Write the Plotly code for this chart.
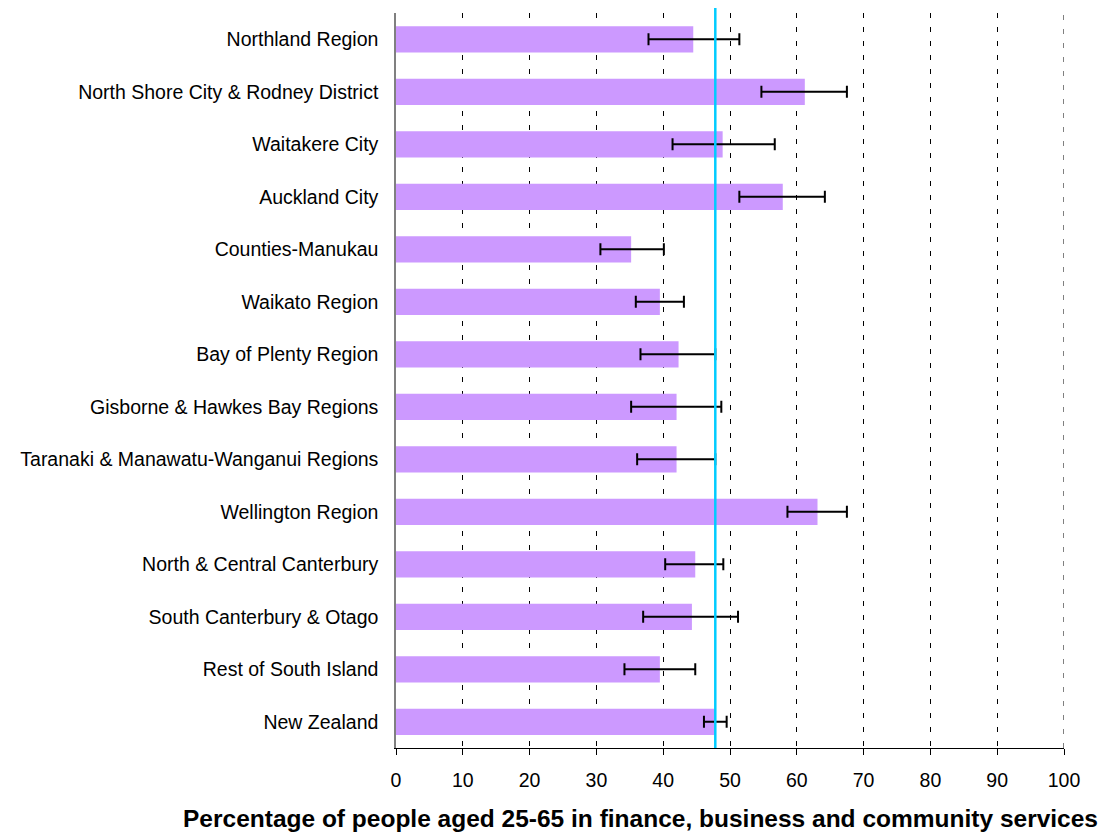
import plotly.graph_objects as go

categories = [
    "Northland Region",
    "North Shore City & Rodney District",
    "Waitakere City",
    "Auckland City",
    "Counties-Manukau",
    "Waikato Region",
    "Bay of Plenty Region",
    "Gisborne & Hawkes Bay Regions",
    "Taranaki & Manawatu-Wanganui Regions",
    "Wellington Region",
    "North & Central Canterbury",
    "South Canterbury & Otago",
    "Rest of South Island",
    "New Zealand",
]
values = [44.5, 61.2, 48.9, 57.9, 35.2, 39.5, 42.3, 42.0, 42.0, 63.1, 44.8, 44.3, 39.5, 47.8]
err_low = [37.8, 54.7, 41.4, 51.4, 30.6, 35.9, 36.6, 35.2, 36.1, 58.6, 40.3, 37.0, 34.2, 46.1]
err_high = [51.4, 67.5, 56.7, 64.2, 40.1, 43.1, 47.8, 48.7, 47.8, 67.5, 49.0, 51.2, 44.8, 49.5]
nz_reference = 47.8
x_ticks = [0, 10, 20, 30, 40, 50, 60, 70, 80, 90, 100]
x_title = "Percentage of people aged 25-65 in finance, business and community services"

minus = [v - lo for v, lo in zip(values, err_low)]
plus = [hi - v for v, hi in zip(values, err_high)]

# page body has an 8px default margin; size the figure so the plot lands where the reference has it
W, H = 1099, 824
L, R, T, B = 388, 43, 5, 84
plot_w = W - L - R
plot_h = H - T - B
grid_dash = "5px,9px"

fig = go.Figure()
fig.add_trace(go.Bar(
    y=categories,
    x=values,
    orientation="h",
    marker=dict(color="#CC99FF", line=dict(width=0)),
    error_x=dict(type="data", symmetric=False, array=plus, arrayminus=minus,
                 color="black", thickness=2, width=6),
    showlegend=False,
))

# gridline at the right edge of the range (plotly skips gridlines on the range edge)
fig.add_shape(type="line", xref="x", yref="paper", x0=x_ticks[-1], x1=x_ticks[-1],
              y0=0, y1=1, line=dict(color="black", width=1, dash=grid_dash), layer="below")

fig.add_shape(type="line", xref="x", yref="paper", x0=nz_reference, x1=nz_reference,
              y0=0, y1=1 + 5 / plot_h, line=dict(color="#00CCFF", width=2.5), layer="above")

fig.add_annotation(text="<b>" + x_title + "</b>", xref="paper", yref="paper",
                   x=(640 - 8 - L) / plot_w, y=-(818 - 8 - (T + plot_h)) / plot_h,
                   xanchor="center", yanchor="middle",
                   showarrow=False, font=dict(family="Liberation Sans, Arial", size=24.5, color="black"))

fig.update_layout(
    width=W, height=H,
    margin=dict(l=L, r=R, t=T, b=B, pad=0),
    paper_bgcolor="white", plot_bgcolor="white",
    bargap=0.5,
    font=dict(family="Liberation Sans, Arial", size=19.5, color="black"),
    xaxis=dict(range=[0, 100], tickvals=x_ticks, ticks="outside", ticklen=6, tickcolor="black",
               showline=True, linecolor="black", linewidth=1, zeroline=False,
               showgrid=True, gridcolor="black", gridwidth=1, griddash=grid_dash,
               ticklabelstandoff=9, fixedrange=True),
    yaxis=dict(autorange="reversed", showline=True, linecolor="#808080", linewidth=1.5,
               ticks="", showgrid=False, zeroline=False, ticklabelstandoff=12, fixedrange=True),
)

fig.write_html("out.html")
